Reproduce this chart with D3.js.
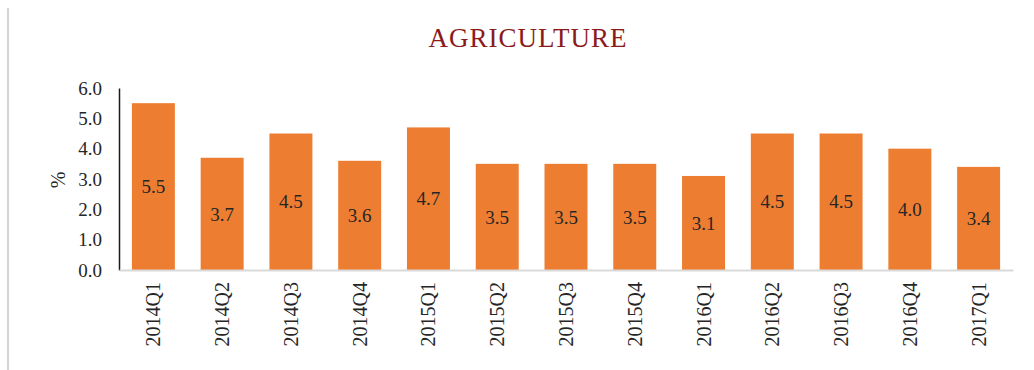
<!DOCTYPE html>
<html>
<head>
<meta charset="utf-8">
<script src="https://cdn.jsdelivr.net/npm/d3@7/dist/d3.min.js"></script>
<style>
  html, body { margin: 0; padding: 0; background: #fff; }
  svg { display: block; }
  text { font-family: "Liberation Serif", "DejaVu Serif", serif; }
</style>
</head>
<body>
<svg id="chart" width="1034" height="370"></svg>
<script>
// Quarterly growth, agriculture (%)
const quarters = ["2014Q1", "2014Q2", "2014Q3", "2014Q4", "2015Q1", "2015Q2", "2015Q3",
                  "2015Q4", "2016Q1", "2016Q2", "2016Q3", "2016Q4", "2017Q1"];
const growth = [5.5, 3.7, 4.5, 3.6, 4.7, 3.5, 3.5, 3.5, 3.1, 4.5, 4.5, 4.0, 3.4];
const yTicks = [0, 1, 2, 3, 4, 5, 6];
const chartTitle = "AGRICULTURE";
const yLabel = "%";

const svg = d3.select("#chart");
const plot = { left: 119, right: 1013, top: 88, bottom: 270 };

// left frame edge
svg.append("line")
  .attr("x1", 8).attr("x2", 8).attr("y1", 8).attr("y2", 370)
  .attr("stroke", "#d4d4d4").attr("stroke-width", 2);

const x = d3.scaleBand()
  .domain(quarters)
  .range([plot.left, plot.right])
  .paddingInner(0.375)
  .paddingOuter(0.1875);

const y = d3.scaleLinear()
  .domain([0, 6])
  .range([plot.bottom, plot.top]);

// title
svg.append("text")
  .attr("x", 528).attr("y", 47)
  .attr("text-anchor", "middle")
  .attr("fill", "#8b1a1a")
  .attr("font-size", 27)
  .attr("letter-spacing", 1)
  .text(chartTitle);

// bars
svg.append("g").selectAll("rect")
  .data(quarters)
  .join("rect")
  .attr("x", d => x(d))
  .attr("width", x.bandwidth())
  .attr("y", (d, i) => y(growth[i]))
  .attr("height", (d, i) => y(0) - y(growth[i]))
  .attr("fill", "#ed7d31");

// value labels, centred in each bar
svg.append("g").selectAll("text")
  .data(quarters)
  .join("text")
  .attr("x", d => x(d) + x.bandwidth() / 2)
  .attr("y", (d, i) => (y(growth[i]) + y(0)) / 2)
  .attr("dy", "0.35em")
  .attr("text-anchor", "middle")
  .attr("font-size", 19)
  .attr("fill", "#262626")
  .text((d, i) => growth[i].toFixed(1));

// y axis
const yAxis = svg.append("g")
  .attr("transform", `translate(${plot.left},0)`)
  .call(d3.axisLeft(y).tickValues(yTicks).tickFormat(d3.format(".1f")).tickSize(0).tickPadding(17));
yAxis.select(".domain").attr("stroke", "#1a1a1a").attr("stroke-width", 1.5);
yAxis.selectAll("text").attr("font-size", 19).attr("fill", "#262626")
  .attr("font-family", "Liberation Serif, serif");

// x axis
const xAxis = svg.append("g")
  .attr("transform", `translate(0,${plot.bottom})`)
  .call(d3.axisBottom(x).tickSize(0).tickPadding(0));
xAxis.select(".domain").attr("stroke", "#d9d9d9").attr("stroke-width", 2);
xAxis.selectAll("text")
  .attr("font-size", 20).attr("fill", "#262626")
  .attr("font-family", "Liberation Serif, serif")
  .attr("transform", "rotate(-90)")
  .attr("text-anchor", "end")
  .attr("x", -12).attr("y", 0).attr("dy", "0.35em");

// y axis label
svg.append("text")
  .attr("transform", "translate(58,180) rotate(-90)")
  .attr("text-anchor", "middle")
  .attr("dy", "0.35em")
  .attr("font-size", 20)
  .attr("fill", "#262626")
  .text(yLabel);
</script>
</body>
</html>
